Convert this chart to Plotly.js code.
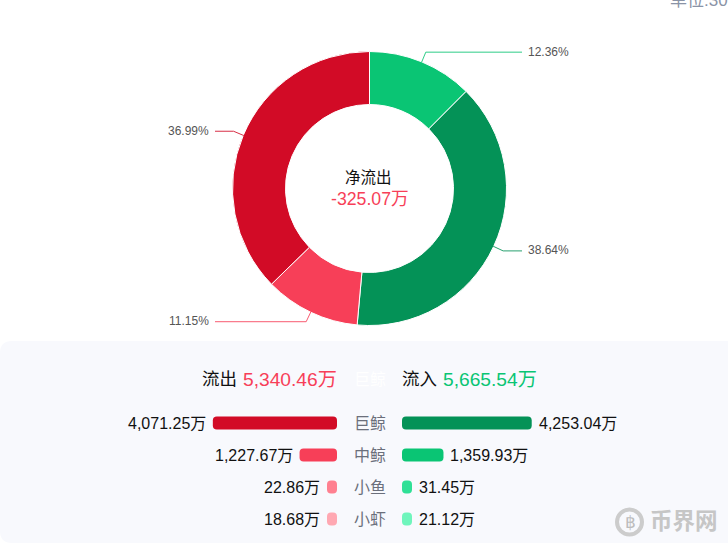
<!DOCTYPE html>
<html>
<head>
<meta charset="utf-8">
<script src="https://cdn.plot.ly/plotly-3.0.1.min.js"></script>
<style>html,body{margin:0;padding:0;background:#fff;overflow:hidden}#c{width:728px;height:550px}</style>
</head>
<body>
<div id="c"></div>
<script>
var W = 728, H = 550;
var FONT = '"Liberation Sans", Arial, "Noto Sans CJK SC", sans-serif';

// Data
var categories = ['巨鲸', '中鲸', '小鱼', '小虾'];
var outflow = [4071.25, 1227.67, 22.86, 18.68];
var inflow = [4253.04, 1359.93, 31.45, 21.12];
var outflowLabels = ['4,071.25万', '1,227.67万', '22.86万', '18.68万'];
var inflowLabels = ['4,253.04万', '1,359.93万', '31.45万', '21.12万'];
var outflowColors = ['#d20b26', '#f73f58', '#ff8090', '#ffa8b2'];
var inflowColors = ['#049257', '#0ac574', '#2fe096', '#6ff5bc'];
var pieValues = [1359.93, 4253.04, 1227.67, 4071.25];
var pieLabels = ['中鲸流入', '巨鲸流入', '中鲸流出', '巨鲸流出'];
var pieText = ['12.36%', '38.64%', '11.15%', '36.99%'];
var pieColors = ['#0ac574', '#049257', '#f73f58', '#d20b26'];
var totalOut = '5,340.46万', totalIn = '5,665.54万', net = '-325.07万';

// Geometry
var cx = 369.5, cy = 188.5, R = 136.5, r = 84;
var pxPerUnit = 0.0305, minBarPx = 10, corner = 4;
var axisL = 337, axisR = 402, rowTop = 407, rowBottom = 535;
var px = function (x) { return x / W; };
var py = function (y) { return 1 - y / H; };
var minLen = minBarPx / pxPerUnit;
var barLen = function (v) { return Math.max(v, minLen); };

// An explicit base makes Plotly round both ends of a bar.
function bars(values, colors, xa, ya) {
  return {
    type: 'bar', orientation: 'h', y: categories, xaxis: xa, yaxis: ya, width: 13 / 32,
    base: values.map(function () { return 0; }), x: values.map(barLen),
    marker: { color: colors, line: { width: 0 }, cornerradius: corner }, hoverinfo: 'none', showlegend: false
  };
}

var traces = [
  {
    type: 'pie', values: pieValues, labels: pieLabels, sort: false, direction: 'clockwise', rotation: 0,
    hole: r / (R + 0.5), textinfo: 'none', hoverinfo: 'none', showlegend: false,
    marker: { colors: pieColors, line: { color: '#fff', width: 1 } },
    domain: { x: [px(cx - R - 0.5), px(cx + R + 0.5)], y: [py(cy + R + 0.5), py(cy - R - 0.5)] }
  },
  bars(outflow, outflowColors, 'x', 'y'),
  bars(inflow, inflowColors, 'x2', 'y2')
];

var annotations = [];
function note(text, x, y, anchor, size, color, extra) {
  annotations.push(Object.assign({
    text: text, xref: 'paper', yref: 'paper', x: px(x), y: py(y), xanchor: anchor, yanchor: 'middle',
    showarrow: false, font: { family: FONT, size: size, color: color }, borderpad: 0, borderwidth: 0
  }, extra || {}));
}
var shapes = [];

// Panel and header
var p0 = 341, p1 = 543, rad = 12;
shapes.push({
  type: 'path', layer: 'below', xref: 'paper', yref: 'paper', line: { width: 0 }, fillcolor: '#f8f9fd',
  path: 'M ' + px(0) + ' ' + py(p0 + rad) + ' Q ' + px(0) + ' ' + py(p0) + ' ' + px(rad) + ' ' + py(p0) +
    ' L 1 ' + py(p0) + ' L 1 ' + py(p1) + ' L ' + px(rad) + ' ' + py(p1) +
    ' Q ' + px(0) + ' ' + py(p1) + ' ' + px(0) + ' ' + py(p1 - rad) + ' Z'
});
note('流出', 237, 379, 'right', 17.5, '#111');
note(totalOut, axisL, 379, 'right', 19.2, '#f73f58');
note('流入', axisR, 379, 'left', 17.5, '#111');
note(totalIn, 443, 379, 'left', 19.2, '#0ac574');
note('巨鲸', 369.5, 379, 'center', 16, '#ffffff');

// Centre of ring
note('净流出', cx - 1, 177.5, 'center', 15.5, '#111');
note(net, cx, 199, 'center', 17.7, '#f73f58');

// Unit text clipped by the top edge
note('单位:30', 670, 0, 'left', 17, '#8a93a6');

// Row value labels
categories.forEach(function (c, i) {
  annotations.push({
    text: outflowLabels[i], xref: 'x', yref: 'y', x: barLen(outflow[i]), y: c, xanchor: 'right', yanchor: 'middle',
    xshift: -6, showarrow: false, font: { family: FONT, size: 16, color: '#111' }, borderpad: 0
  });
  annotations.push({
    text: inflowLabels[i], xref: 'x2', yref: 'y2', x: barLen(inflow[i]), y: c, xanchor: 'left', yanchor: 'middle',
    xshift: 6, showarrow: false, font: { family: FONT, size: 16, color: '#111' }, borderpad: 0
  });
});

// Leader lines and percentage labels, derived from the pie values
var total = pieValues.reduce(function (a, b) { return a + b; }, 0);
var acc = 0;
pieValues.forEach(function (v, i) {
  var a = (acc + v / 2) / total * 2 * Math.PI;
  acc += v;
  var s = Math.sin(a), k = -Math.cos(a), right = s > 0;
  var endX = right ? 522 : 215;
  var pts = [[cx + R * s, cy + R * k], [cx + (R + 11) * s, cy + (R + 11) * k]];
  pts.push([endX, pts[1][1]]);
  var d = pts.map(function (p, j) { return (j ? 'L ' : 'M ') + px(p[0]) + ' ' + py(p[1]); }).join(' ');
  shapes.push({ type: 'path', xref: 'paper', yref: 'paper', path: d, line: { color: pieColors[i], width: 1 }, fillcolor: 'rgba(0,0,0,0)', opacity: 0.85 });
  note(pieText[i], right ? 528 : 209, pts[1][1] - 0.5, right ? 'left' : 'right', 12, '#555');
});

// Watermark
shapes.push({
  type: 'circle', xref: 'paper', yref: 'paper', x0: px(617), x1: px(642), y0: py(534.5), y1: py(509.5),
  line: { color: '#cccccc', width: 4 }, fillcolor: 'rgba(0,0,0,0)'
});
note('฿', 630, 522, 'center', 17, '#c4c4c4', { font: { family: '"DejaVu Sans", sans-serif', size: 17, color: '#bdbdbd' } });
note('<b>币界网</b>', 649.5, 521.5, 'left', 22.5, '#c6c6c6');

var layout = {
  width: W, height: H, margin: { l: 0, r: 0, t: 0, b: 0, pad: 0 },
  paper_bgcolor: '#ffffff', plot_bgcolor: 'rgba(0,0,0,0)', showlegend: false, barmode: 'overlay',
  xaxis: { domain: [0, px(axisL)], range: [axisL / pxPerUnit, 0], visible: false, fixedrange: true },
  yaxis: { domain: [py(rowBottom), py(rowTop)], type: 'category', categoryarray: categories, range: [3.5, -0.5], visible: false, anchor: 'x', fixedrange: true },
  xaxis2: { domain: [px(axisR), 1], range: [0, (W - axisR) / pxPerUnit], visible: false, fixedrange: true, anchor: 'y2' },
  yaxis2: {
    domain: [py(rowBottom), py(rowTop)], type: 'category', categoryarray: categories, range: [3.5, -0.5], anchor: 'x2',
    showgrid: false, zeroline: false, showline: false, ticks: '', ticklabelstandoff: 15,
    tickfont: { family: FONT, size: 16, color: '#6b6f7b' }, fixedrange: true
  },
  shapes: shapes, annotations: annotations
};
Plotly.newPlot('c', traces, layout, { displayModeBar: false, staticPlot: true });
</script>
</body>
</html>
